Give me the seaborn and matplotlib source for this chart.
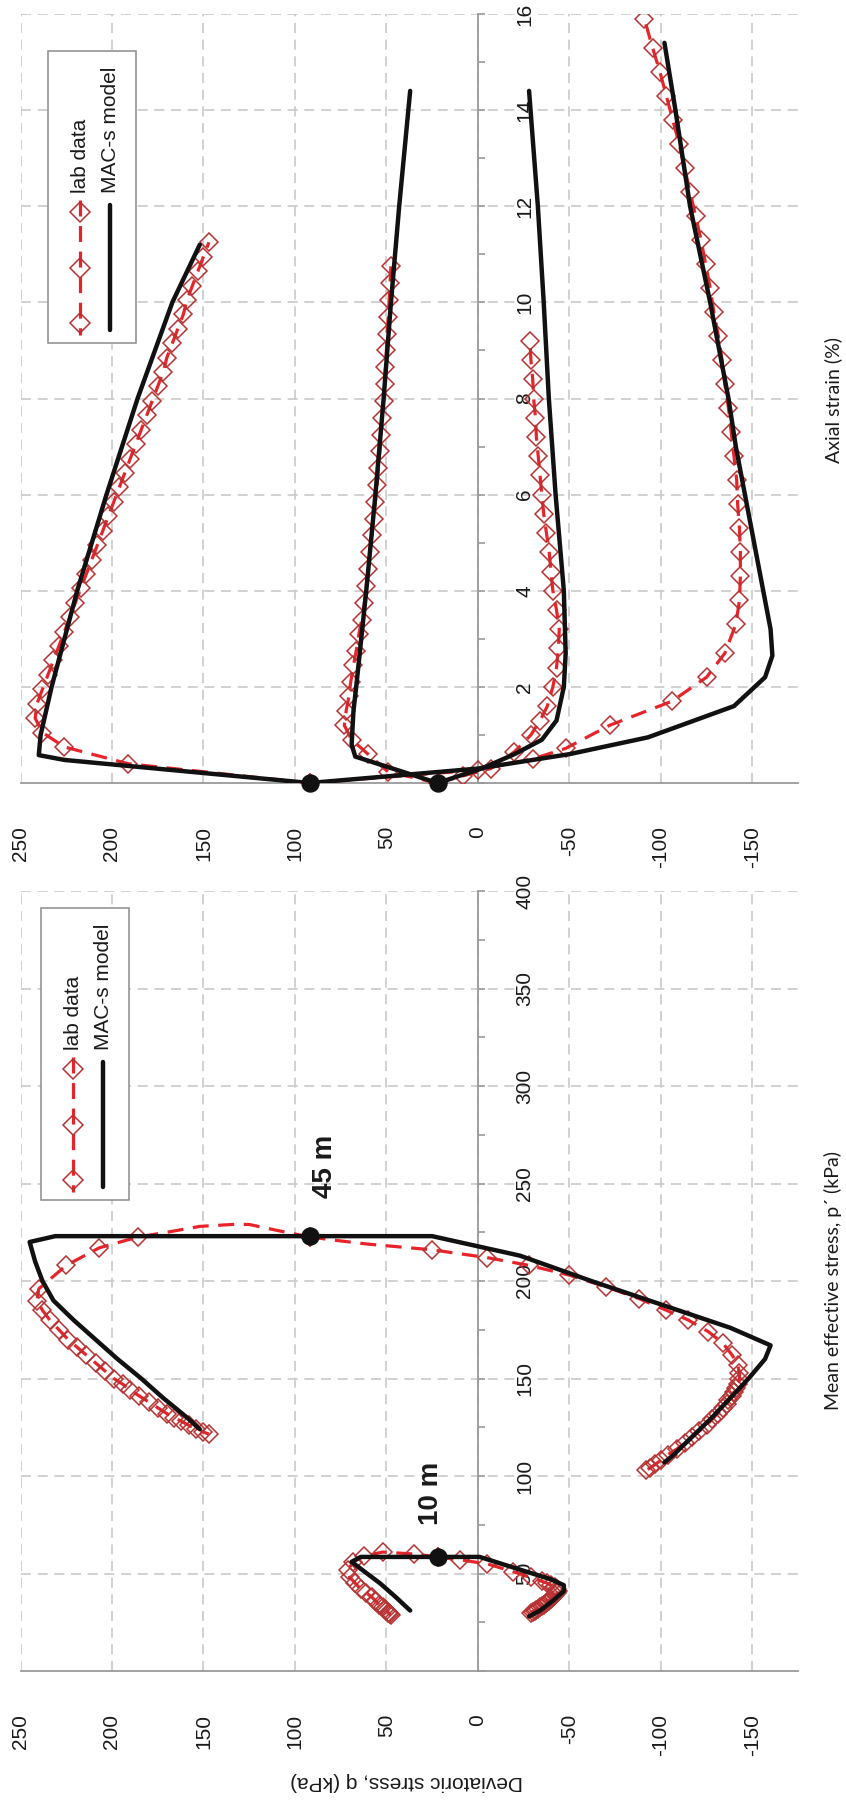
import matplotlib
matplotlib.use("Agg")
import matplotlib.pyplot as plt
from matplotlib.lines import Line2D
from matplotlib.patches import Rectangle
from matplotlib.ticker import MultipleLocator
import seaborn as sns
import pandas as pd

# ---------------- DATA ----------------
# Top panel: deviatoric stress q (kPa) vs axial strain (%)
lab45c_strain = [0, 0.4, 0.75, 1.05, 1.35, 1.65, 1.95, 2.25, 2.55, 2.85, 3.15, 3.45, 3.75, 4.05, 4.35,
                 4.65, 4.95, 5.25, 5.55, 5.85, 6.15, 6.45, 6.75, 7.05, 7.35, 7.65, 7.95, 8.25, 8.55,
                 8.85, 9.15, 9.45, 9.75, 10.05, 10.35, 10.65, 10.95, 11.25]
lab45c_q = [92, 191, 226, 238, 242, 241, 238, 235, 232, 229, 226, 223, 220, 217, 214,
            211, 208, 205, 202, 199, 196, 193, 190, 187, 184, 181, 178, 175, 172,
            170, 167, 164, 161, 159, 156, 153, 150, 147]
mod45c_strain = [0, 0.48, 0.58, 1.0, 2, 4, 6, 8, 10, 11.2]
mod45c_q = [92, 226, 240, 239, 233, 219, 203, 186, 167, 152]

lab10c_strain = [0, 0.23, 0.6, 0.9, 1.2, 1.5, 1.8, 2.1, 2.45, 2.75, 3.1, 3.4, 3.75, 4.1, 4.45, 4.8,
                 5.15, 5.5, 5.85, 6.2, 6.55, 6.9, 7.25, 7.6, 7.95, 8.3, 8.65, 9.0, 9.35, 9.7,
                 10.05, 10.4, 10.75]
lab10c_q = [22, 49, 60, 69, 73, 72, 70.5, 69.5, 68, 66.5, 65, 63.5, 62, 61, 60, 59,
            58, 57, 56, 55, 54.5, 53.5, 53, 52.5, 51.5, 51, 50.5, 50, 49.5, 49,
            48.5, 48, 47.5]
mod10c_strain = [0, 0.55, 0.8, 1.5, 2, 4, 6, 8, 10, 12, 14.4]
mod10c_q = [22, 67, 69, 68, 66.5, 61, 56, 51.5, 47.5, 43, 37]

lab10e_strain = [0, 0.15, 0.3, 0.65, 1.0, 1.3, 1.6, 2.0, 2.4, 2.8, 3.2, 3.6, 4.0, 4.4, 4.8, 5.2,
                 5.6, 6.0, 6.4, 6.8, 7.2, 7.6, 8.0, 8.4, 8.8, 9.2]
lab10e_q = [22, 8, -7, -20, -29, -34, -38, -41, -43, -44, -44.5, -43, -41, -40, -39, -37.5,
            -36, -35, -34, -33, -32, -31.5, -30.5, -30, -29, -28.5]
mod10e_strain = [0, 0.3, 0.6, 0.9, 1.3, 2.0, 2.7, 4, 6, 8, 10, 12, 14.4]
mod10e_q = [22, -2, -20, -35, -43, -47, -48, -47, -42.5, -38.8, -36, -32.8, -28]

lab45e_strain = [0, 0.27, 0.5, 0.72, 1.2, 1.7, 2.2, 2.7, 3.3, 3.8, 4.3, 4.8, 5.3, 5.8, 6.3, 6.8,
                 7.3, 7.8, 8.3, 8.8, 9.3, 9.8, 10.3, 10.8, 11.3, 11.8, 12.3, 12.8, 13.3, 13.8,
                 14.3, 14.8, 15.3, 15.9]
lab45e_q = [92, 0, -30, -48, -72, -106, -125, -135, -141, -143, -143.5, -143.5, -143, -142, -141.5, -140,
            -138.5, -137, -135, -133.5, -131.5, -129, -127, -124.5, -122, -119, -116, -113, -110, -106.5,
            -103, -99.5, -95.5, -91]
mod45e_strain = [0, 0.3, 0.6, 0.95, 1.6, 2.2, 2.65, 3.2, 4, 5, 6, 7, 8, 10, 12, 14, 15.4]
mod45e_q = [92, 0, -50, -93, -140, -157, -161, -160, -156, -151, -146, -141, -137, -127, -116, -108, -102]

# Bottom panel: q (kPa) vs mean effective stress p' (kPa)
lab45c_p = [222.6, 226, 229, 229, 228, 225, 222.5, 217, 208, 196, 190, 185, 180, 175, 170, 166, 162,
            158, 154, 150, 147, 144, 141, 138, 135, 132, 130, 128, 126, 124, 122.5, 121.5]
lab45c_qp = [92, 110, 125, 134, 152, 170, 186, 207, 225, 240, 241, 238, 234, 229, 224, 219, 214,
             209, 204, 199, 194, 190, 185, 180, 175, 170, 166, 162, 158, 154, 150, 147]
mod45c_p = [223, 223, 220, 210, 200, 190, 180, 170, 160, 150, 140, 130, 124]
mod45c_qp = [92, 231, 245, 242, 238, 232, 221, 209, 197, 184, 172, 159, 152]

lab45e_p = [222.6, 221, 219, 216, 212, 208, 203, 197, 191, 185, 180, 174, 168, 162, 157, 153, 150, 147,
            145, 143, 141, 139, 137, 135, 132, 129, 126, 123, 120, 117, 114, 111, 108, 106, 104, 103]
lab45e_qp = [92, 79, 61, 25, -5, -28, -50, -70, -88, -103, -115, -126, -134, -139, -142, -143, -143, -142,
             -141, -140, -139, -137, -136, -134, -131, -128, -125, -121, -117, -113, -109, -104, -100, -97, -94, -92]
mod45e_p = [223, 223, 213, 200, 188, 176, 167, 160, 150, 140, 130, 120, 110, 107]
mod45e_qp = [92, 25, -23, -62, -100, -138, -160, -157, -148, -138, -128, -117, -106, -102]

lab10c_p = [58.5, 60, 61, 59, 56, 52, 48, 45, 42, 40, 38, 36, 34, 33, 32, 31, 30, 29.5, 29, 28.5]
lab10c_qp = [22, 35, 52, 62, 68, 71, 70, 67, 64, 61, 58, 56, 54, 52, 51, 50, 49, 48.5, 48, 47.5]
mod10c_p = [58.5, 58.5, 56, 51, 45, 38, 31]
mod10c_qp = [22, 64, 69, 62, 53.5, 45, 37]

lab10e_p = [58.5, 57, 55, 51, 48, 46, 45, 44, 43, 42, 41, 40, 39, 38, 37, 36, 35.5, 35, 34, 33.5,
            33, 32, 31.5, 31, 30.5, 30]
lab10e_qp = [22, 10, -5, -19, -29, -35, -38, -40, -42, -43, -44, -43.5, -42, -41, -40, -39, -38, -37, -36, -35,
             -34, -33, -32, -31, -30, -29]
mod10e_p = [58.5, 58.5, 52, 47, 44, 41, 36, 31, 28]
mod10e_qp = [22, -1, -23, -40, -47, -47, -41, -34, -28]

# consolidation (start) points: q and p'
start_q = [92, 22]
start_p = [223, 58.5]
start_strain = [0, 0]
start_names = ["45 m", "10 m"]

q_ticks = [250, 200, 150, 100, 50, 0, -50, -100, -150]
q_labels = ["250", "200", "150", "100", "50", "0", "-50", "-100", "-150"]
strain_ticks = [2, 4, 6, 8, 10, 12, 14, 16]
strain_labels = ["2", "4", "6", "8", "10", "12", "14", "16"]
p_ticks = [50, 100, 150, 200, 250, 300, 350, 400]
p_labels = ["50", "100", "150", "200", "250", "300", "350", "400"]
legend_labels = ["lab data", "MAC-s model"]

# ---------------- STYLE ----------------
sns.set_theme(style="white")
plt.rcParams['font.family'] = ['Liberation Sans', 'DejaVu Sans']

RED = "#E8232A"
DRED = "#B83232"
AXC = "#9A9A9A"
GRID = "#C9C9C9"
TXT = "#1A1A1A"

W, H = 846, 1800
fig = plt.figure(figsize=(W / 100, H / 100), dpi=100)
fig.patch.set_facecolor("white")


def fx(x):
    return x / W


def fy(y):
    return 1 - y / H


X_L, X_R = 20.5, 798
ax_top = fig.add_axes([fx(X_L), fy(783), fx(X_R) - fx(X_L), fy(14) - fy(783)])
ax_bot = fig.add_axes([fx(X_L), fy(1671), fx(X_R) - fx(X_L), fy(891) - fy(1671)])


def style(ax, ymax, yticks, ylabels, yminor):
    ax.set_xlim(250, -175)
    ax.set_ylim(0, ymax)
    ax.set_facecolor("white")
    ax.spines["top"].set_visible(False)
    ax.spines["left"].set_visible(False)
    ax.spines["right"].set_position(("data", 0))
    for s in ("right", "bottom"):
        ax.spines[s].set_color(AXC)
        ax.spines[s].set_linewidth(1.3)
    ax.yaxis.tick_right()
    ax.set_xticks(q_ticks, labels=q_labels)
    ax.xaxis.set_minor_locator(MultipleLocator(25))
    ax.set_yticks(yticks, labels=ylabels)
    ax.yaxis.set_minor_locator(MultipleLocator(yminor))
    ax.tick_params(axis="x", which="major", direction="out", length=18, width=1.2, color=AXC,
                   pad=13, labelsize=15, labelcolor=TXT, labelrotation=90)
    ax.tick_params(axis="x", which="minor", direction="out", length=9, width=1.2, color=AXC)
    ax.tick_params(axis="y", which="both", direction="out", length=5, width=1.2, color=AXC)
    ax.tick_params(axis="y", which="major", pad=22, labelsize=15, labelcolor=TXT, labelrotation=90)
    for lab in ax.get_yticklabels():
        lab.set_va("center")
    ax.grid(True, which="major", color=GRID, linestyle=(0, (6, 4)), linewidth=1.2)


style(ax_top, 16, strain_ticks, strain_labels, 1)
style(ax_bot, 400, p_ticks, p_labels, 25)


def lab_line(ax, q, y, skip=()):
    df = pd.DataFrame({"q": q, "y": y})
    every = [i for i in range(len(q)) if i not in skip]
    sns.lineplot(data=df, x="q", y="y", sort=False, estimator=None, ax=ax, color=RED,
                 linewidth=2.3, linestyle=(0, (5, 3)), marker="D", markersize=9,
                 markerfacecolor="none", markeredgecolor=DRED, markeredgewidth=1.1,
                 markevery=every, legend=False, zorder=3)


def model_line(ax, q, y):
    df = pd.DataFrame({"q": q, "y": y})
    sns.lineplot(data=df, x="q", y="y", sort=False, estimator=None, ax=ax, color="#111111",
                 linewidth=3.2, legend=False, zorder=4)


# top panel
lab_line(ax_top, lab45c_q, lab45c_strain)
lab_line(ax_top, lab10c_q, lab10c_strain)
lab_line(ax_top, lab10e_q, lab10e_strain)
lab_line(ax_top, lab45e_q, lab45e_strain)
model_line(ax_top, mod45c_q, mod45c_strain)
model_line(ax_top, mod10c_q, mod10c_strain)
model_line(ax_top, mod10e_q, mod10e_strain)
model_line(ax_top, mod45e_q, mod45e_strain)
sns.scatterplot(x=start_q, y=start_strain, ax=ax_top, s=150, color="#111111", edgecolor="#111111",
                zorder=6, legend=False, clip_on=False)

# bottom panel
lab_line(ax_bot, lab45c_qp, lab45c_p, skip=(1, 2, 3, 4, 5))
lab_line(ax_bot, lab45e_qp, lab45e_p, skip=(1, 2))
lab_line(ax_bot, lab10c_qp, lab10c_p)
lab_line(ax_bot, lab10e_qp, lab10e_p)
model_line(ax_bot, mod45c_qp, mod45c_p)
model_line(ax_bot, mod45e_qp, mod45e_p)
model_line(ax_bot, mod10c_qp, mod10c_p)
model_line(ax_bot, mod10e_qp, mod10e_p)
sns.scatterplot(x=start_q, y=start_p, ax=ax_bot, s=150, color="#111111", edgecolor="#111111",
                zorder=6, legend=False)

for ax in (ax_top, ax_bot):
    ax.set_xlabel("")
    ax.set_ylabel("")

offsets = [(11, 50), (-5, 46)]
for q0, p0, name, off in zip(start_q, start_p, start_names, offsets):
    ax_bot.annotate(name, xy=(q0, p0), xytext=off, textcoords="offset points", rotation=90,
                    fontsize=20, fontweight="bold", ha="center", va="center", color=TXT)


# manual (rotated) legends
def legend(x0, y0):
    # x0, y0: top-left corner of the legend box in pixels
    fig.add_artist(Rectangle((fx(x0), fy(y0 + 292)), fx(88), 292 / H, transform=fig.transFigure,
                             facecolor="white", edgecolor="#8C8C8C", linewidth=1.1, zorder=10))
    xl, xm = x0 + 32, x0 + 62
    fig.add_artist(Line2D([fx(xl)] * 5, [fy(y0 + 149), fy(y0 + 161), fy(y0 + 217), fy(y0 + 272), fy(y0 + 284)],
                          transform=fig.transFigure, color=RED, linewidth=2.3, linestyle=(0, (5, 3)),
                          marker="D", markersize=10, markerfacecolor="none", markeredgecolor=DRED,
                          markeredgewidth=1.1, markevery=[1, 2, 3], zorder=11))
    fig.add_artist(Line2D([fx(xm), fx(xm)], [fy(y0 + 154), fy(y0 + 279)], transform=fig.transFigure,
                          color="#111111", linewidth=3.2, zorder=11))
    fig.text(fx(xl), fy(y0 + 142), legend_labels[0], rotation=90, ha="center", va="bottom",
             fontsize=15, color=TXT, zorder=12)
    fig.text(fx(xm), fy(y0 + 142), legend_labels[1], rotation=90, ha="center", va="bottom",
             fontsize=15, color=TXT, zorder=12)


legend(48, 51)
legend(41, 908)

# axis titles
fig.text(fx(833), fy(400), "Axial strain (%)", rotation=90, ha="center", va="center",
         fontsize=14, family=["Lato", "DejaVu Sans"], color=TXT)
fig.text(fx(833), fy(1281), "Mean effective stress, p\u00b4 (kPa)", rotation=90, ha="center", va="center",
         fontsize=14, family=["Lato", "DejaVu Sans"], color=TXT)
fig.text(fx(407), fy(1782), "Deviatoric stress, q (kPa)", rotation=180, ha="center", va="center",
         fontsize=15, color=TXT)

fig.savefig("out.png", dpi=100, facecolor="white")
